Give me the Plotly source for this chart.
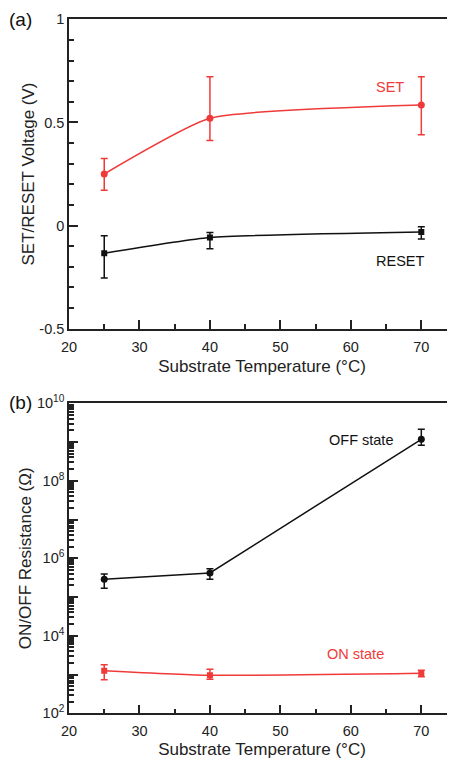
import plotly.graph_objects as go

# ---------------- data ----------------
temps = [25, 40, 70]

set_v = [0.25, 0.52, 0.585]
set_hi = [0.325, 0.722, 0.722]
set_lo = [0.171, 0.413, 0.44]

reset_v = [-0.134, -0.058, -0.031]
reset_hi = [-0.049, -0.034, -0.006]
reset_lo = [-0.254, -0.113, -0.065]

off_r = [2.87e5, 4.2e5, 1.18e9]
off_hi = [3.94e5, 5.4e5, 2.13e9]
off_lo = [1.68e5, 2.87e5, 8.24e8]

on_r = [1.26e3, 957, 1.08e3]
on_hi = [1795, 1365, 1288]
on_lo = [736, 753, 881]

x_ticks = [20, 30, 40, 50, 60, 70]
v_ticks = [-0.5, 0, 0.5, 1]
v_ticktext = ["-0.5", "0", "0.5", "1"]
r_label_decades = [2, 4, 6, 8, 10]
r_odd_decades = [3, 5, 7, 9]

RED = "#f03a3a"
BLK = "#111111"
AX = "#222222"
FONT = "Liberation Sans, Arial, sans-serif"


def plus(v, hi):
    return [h - a for a, h in zip(v, hi)]


def minus(v, lo):
    return [a - l for a, l in zip(v, lo)]


fig = go.Figure()

# top panel
fig.add_trace(go.Scatter(
    x=temps, y=set_v, mode="lines+markers", xaxis="x", yaxis="y",
    line=dict(color=RED, width=1.5, shape="spline", smoothing=0.5),
    marker=dict(symbol="circle", size=7, color=RED),
    error_y=dict(type="data", array=plus(set_v, set_hi), arrayminus=minus(set_v, set_lo),
                 color=RED, thickness=1.5, width=3.5),
    showlegend=False))
fig.add_trace(go.Scatter(
    x=temps, y=reset_v, mode="lines+markers", xaxis="x", yaxis="y",
    line=dict(color=BLK, width=1.5, shape="spline", smoothing=0.5),
    marker=dict(symbol="square", size=6, color=BLK),
    error_y=dict(type="data", array=plus(reset_v, reset_hi), arrayminus=minus(reset_v, reset_lo),
                 color=BLK, thickness=1.5, width=3.5),
    showlegend=False))

# bottom panel
fig.add_trace(go.Scatter(
    x=temps, y=off_r, mode="lines+markers", xaxis="x2", yaxis="y2",
    line=dict(color=BLK, width=1.5),
    marker=dict(symbol="circle", size=7, color=BLK),
    error_y=dict(type="data", array=plus(off_r, off_hi), arrayminus=minus(off_r, off_lo),
                 color=BLK, thickness=1.5, width=3.5),
    showlegend=False))
fig.add_trace(go.Scatter(
    x=temps, y=on_r, mode="lines+markers", xaxis="x2", yaxis="y2",
    line=dict(color=RED, width=1.5, shape="spline", smoothing=0.5),
    marker=dict(symbol="square", size=6, color=RED),
    error_y=dict(type="data", array=plus(on_r, on_hi), arrayminus=minus(on_r, on_lo),
                 color=RED, thickness=1.5, width=3.5),
    showlegend=False))

# page has an 8px body margin: design in page pixels, convert to figure pixels
OFF = 8
W, H = 455 - OFF, 759 - OFF


def fy(page_y):
    return 1 - (page_y - OFF) / H


def fx(page_x):
    return (page_x - OFF) / W


left = fx(69)
top_dom = [fy(328.7), fy(19.3)]
bot_dom = [fy(713.3), fy(403.3)]

TITLE_FONT = dict(size=17, family=FONT, color=AX)
TICK_FONT = dict(size=14.5, color=AX, family=FONT)

# minor tick positions inside each decade (2..9 x 10^d)
log_minor = [m * 10 ** d for d in range(2, 10) for m in range(2, 10)]

xcommon = dict(
    range=[20, 74.78], tickvals=x_ticks, ticks="inside", ticklen=9, tickwidth=1.5,
    tickcolor=AX, showline=True, linecolor=AX, linewidth=1.5, mirror=True,
    showgrid=False, zeroline=False, tickfont=TICK_FONT, ticklabelstandoff=4,
    minor=dict(dtick=5, ticks="inside", ticklen=5, tickwidth=1.5, tickcolor=AX, showgrid=False),
    automargin=False,
)

helper = dict(domain=bot_dom, anchor="x2", overlaying="y2", side="left", type="log", range=[2, 10],
              showticklabels=False, showline=False, showgrid=False, zeroline=False,
              automargin=False, ticks="inside", tickcolor=AX)

fig.update_layout(
    width=W, height=H,
    margin=dict(l=0, r=0, t=0, b=0),
    paper_bgcolor="white", plot_bgcolor="white",
    font=dict(family=FONT, color=AX, size=14),
    xaxis=dict(domain=[left, 1], anchor="y",
               title=dict(text="Substrate Temperature (°C)", font=TITLE_FONT, standoff=6),
               **xcommon),
    yaxis=dict(domain=top_dom, anchor="x", range=[-0.5, 1], tickvals=v_ticks, ticktext=v_ticktext,
               ticks="inside", ticklen=9, tickwidth=1.5, tickcolor=AX,
               showline=True, linecolor=AX, linewidth=1.5, showgrid=False, zeroline=False,
               tickfont=TICK_FONT,
               minor=dict(dtick=0.1, ticks="inside", ticklen=5, tickwidth=1.5, tickcolor=AX, showgrid=False),
               title=dict(text="SET/RESET Voltage (V)", font=TITLE_FONT, standoff=0),
               automargin=False),
    xaxis2=dict(domain=[left, 1], anchor="y2",
                title=dict(text="Substrate Temperature (°C)", font=TITLE_FONT, standoff=6),
                **xcommon),
    yaxis2=dict(domain=bot_dom, anchor="x2", type="log", range=[2, 10],
                tickvals=[10 ** d for d in r_label_decades],
                ticktext=["10<sup>%d</sup>" % d for d in r_label_decades],
                ticks="inside", ticklen=9, tickwidth=1.5, tickcolor=AX,
                showline=True, linecolor=AX, linewidth=1.5, showgrid=False, zeroline=False,
                tickfont=TICK_FONT,
                title=dict(text="ON/OFF Resistance (Ω)", font=TITLE_FONT, standoff=1),
                automargin=False),
    # unlabelled ticks at the odd decades
    yaxis3=dict(tickvals=[10 ** d for d in r_odd_decades], ticklen=9, tickwidth=1.5, **helper),
    # minor ticks inside each decade
    yaxis4=dict(tickvals=log_minor, ticklen=5, tickwidth=1.5, **helper),
    annotations=[
        dict(text="SET", x=65.5, y=0.67, xref="x", yref="y", showarrow=False,
             font=dict(size=14.5, color=RED, family=FONT)),
        dict(text="RESET", x=67.0, y=-0.17, xref="x", yref="y", showarrow=False,
             font=dict(size=14.5, color=BLK, family=FONT)),
        dict(text="OFF state", x=61.4, y=9.05, xref="x2", yref="y2", showarrow=False,
             font=dict(size=14.5, color=BLK, family=FONT)),
        dict(text="ON state", x=60.7, y=3.53, xref="x2", yref="y2", showarrow=False,
             font=dict(size=14.5, color=RED, family=FONT)),
        dict(text="(a)", x=fx(20), y=fy(20), xref="paper", yref="paper", showarrow=False,
             xanchor="center", yanchor="middle", font=dict(size=19, color=BLK, family=FONT)),
        dict(text="(b)", x=fx(20), y=fy(402), xref="paper", yref="paper", showarrow=False,
             xanchor="center", yanchor="middle", font=dict(size=19, color=BLK, family=FONT)),
    ],
)

# invisible traces so the helper axes are drawn
for ya in ("y3", "y4"):
    fig.add_trace(go.Scatter(x=[temps[0]], y=[on_r[0]], xaxis="x2", yaxis=ya, mode="markers",
                             marker=dict(opacity=0), hoverinfo="skip", showlegend=False))

fig.write_html("out.html")
